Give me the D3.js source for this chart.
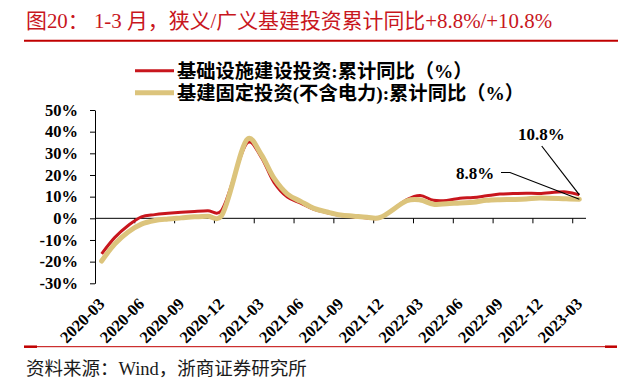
<!DOCTYPE html>
<html>
<head>
<meta charset="utf-8">
<script src="https://cdn.jsdelivr.net/npm/d3@7"></script>
<style>
  body { margin: 0; background: #fff; }
  svg { display: block; }
</style>
</head>
<body>
<svg id="chart" width="629" height="383"></svg>
<script>
// Monate (Kategorien), Januar jeweils ohne Wert (Jan-Feb kumuliert)
const months = [
    '2020-03', '2020-04', '2020-05', '2020-06', '2020-07', '2020-08', '2020-09', '2020-10', '2020-11', '2020-12',
    '2021-01', '2021-02', '2021-03', '2021-04', '2021-05', '2021-06', '2021-07', '2021-08', '2021-09', '2021-10', '2021-11', '2021-12',
    '2022-01', '2022-02', '2022-03', '2022-04', '2022-05', '2022-06', '2022-07', '2022-08', '2022-09', '2022-10', '2022-11', '2022-12',
    '2023-01', '2023-02', '2023-03'
];

// 基础设施建设投资:累计同比 (%)
const infraBroad = [
    -16.4, -8.8, -3.3, 0.7, 1.7, 2.3, 2.8, 3.2, 3.5, 3.4,
    null, 35.0, 28.5, 16.5, 9.8, 7.0, 4.1, 2.6, 1.3, 0.7, 0.2, 0.2,
    null, 8.6, 10.5, 8.3, 8.2, 9.3, 9.6, 10.4, 11.2, 11.4, 11.6, 11.5,
    null, 12.2, 10.8
];

// 基建固定投资(不含电力):累计同比 (%)
const infraNarrow = [
    -19.7, -11.8, -6.3, -2.7, -1.0, -0.3, 0.2, 0.7, 1.0, 0.9,
    null, 36.6, 29.7, 18.4, 11.2, 7.8, 4.6, 2.9, 1.5, 1.0, 0.5, 0.4,
    null, 8.1, 8.5, 6.5, 6.7, 7.1, 7.4, 8.3, 8.6, 8.7, 8.9, 9.4,
    null, 9.0, 8.8
];

const yTicks = [-30, -20, -10, 0, 10, 20, 30, 40, 50];
const xLabelMonths = [
    '2020-03', '2020-06', '2020-09', '2020-12', '2021-03', '2021-06', '2021-09',
    '2021-12', '2022-03', '2022-06', '2022-09', '2022-12', '2023-03'
];

const seriesNames = ['基础设施建设投资:累计同比（%）', '基建固定投资(不含电力):累计同比（%）'];
const titleText = '图20：  1-3 月，狭义/广义基建投资累计同比+8.8%/+10.8%';
const sourceText = '资料来源：Wind，浙商证券研究所';

const RED = '#c8161d';
const TAN = '#dcc47c';
const FONT = '"Liberation Serif", "Noto Sans CJK SC", serif';

const svg = d3.select('#chart');

// Titel + Linien
svg.append('text')
    .attr('x', 26)
    .attr('y', 28)
    .style('font-family', FONT)
    .style('font-size', '20.9px')
    .style('fill', RED)
    .text(titleText);

svg.append('line')
    .attr('x1', 24).attr('x2', 618)
    .attr('y1', 40.7).attr('y2', 40.7)
    .attr('stroke', '#c00000')
    .attr('stroke-width', 2);

// Fusszeile
svg.append('line')
    .attr('x1', 24).attr('x2', 617)
    .attr('y1', 346.7).attr('y2', 346.7)
    .attr('stroke', '#c00000')
    .attr('stroke-width', 1);
[[24, 37], [605, 617]].forEach(([a, b]) => {
    svg.append('line')
        .attr('x1', a).attr('x2', b)
        .attr('y1', 346.7).attr('y2', 346.7)
        .attr('stroke', '#c00000')
        .attr('stroke-width', 2.5);
});

svg.append('text')
    .attr('x', 26)
    .attr('y', 374.5)
    .style('font-family', FONT)
    .style('font-size', '18.5px')
    .style('fill', '#1a1a1a')
    .text(sourceText);

// Skalen
const x = d3.scaleBand()
    .domain(months)
    .range([95, 586])
    .padding(0);

const y = d3.scaleLinear()
    .domain([-30, 50])
    .range([283.3, 110]);

const bw = x.bandwidth();

// Y-Achse
const yAxis = svg.append('g')
    .attr('transform', 'translate(95,0)')
    .call(d3.axisLeft(y)
        .tickValues(yTicks)
        .tickFormat(d => d + '%')
        .tickSize(5)
        .tickSizeOuter(0)
        .tickPadding(12));
yAxis.selectAll('path, line').attr('stroke', '#000');
yAxis.selectAll('text')
    .style('font-family', FONT)
    .style('font-size', '16.5px')
    .style('font-weight', 'bold')
    .style('fill', '#000');

// X-Achse (Nulllinie), Striche an Kategoriegrenzen
svg.append('line')
    .attr('x1', x.range()[0]).attr('x2', x.range()[1])
    .attr('y1', y(0)).attr('y2', y(0))
    .attr('stroke', '#000');

svg.selectAll('.x-tick')
    .data(months.filter((m, i) => i % 3 === 0 && i > 0))
    .enter()
    .append('line')
    .attr('class', 'x-tick')
    .attr('x1', d => x(d)).attr('x2', d => x(d))
    .attr('y1', y(0)).attr('y2', y(0) + 5)
    .attr('stroke', '#000');

svg.selectAll('.x-label')
    .data(xLabelMonths)
    .enter()
    .append('text')
    .attr('class', 'x-label')
    .attr('text-anchor', 'end')
    .attr('transform', d => `translate(${x(d) + bw / 2 + 4},305) rotate(-45)`)
    .style('font-family', FONT)
    .style('font-size', '16.5px')
    .style('font-weight', 'bold')
    .style('fill', '#000')
    .text(d => d);

// Linien (Luecken im Januar werden verbunden)
const line = d3.line()
    .x(d => x(d.m) + bw / 2)
    .y(d => y(d.v))
    .curve(d3.curveCatmullRom.alpha(0.3));

const toPoints = arr => months
    .map((m, i) => ({ m: m, v: arr[i] }))
    .filter(d => d.v !== null);

svg.append('path')
    .datum(toPoints(infraBroad))
    .attr('d', line)
    .attr('fill', 'none')
    .attr('stroke', RED)
    .attr('stroke-width', 3)
    .attr('stroke-linejoin', 'round');

svg.append('path')
    .datum(toPoints(infraNarrow))
    .attr('d', line)
    .attr('fill', 'none')
    .attr('stroke', TAN)
    .attr('stroke-width', 5)
    .attr('stroke-linejoin', 'round')
    .attr('stroke-linecap', 'round');

// Legende
[[RED, 3, 70.7], [TAN, 5, 92.7]].forEach(([c, w, ly], i) => {
    svg.append('line')
        .attr('x1', 135).attr('x2', 174)
        .attr('y1', ly).attr('y2', ly)
        .attr('stroke', c)
        .attr('stroke-width', w);
    svg.append('text')
        .attr('x', 177)
        .attr('y', ly + 7)
        .style('font-family', FONT)
        .style('font-size', '19.3px')
        .style('font-weight', 'bold')
        .style('fill', '#000')
        .text(seriesNames[i]);
});

// Annotationen der Endwerte
const last = months.length - 1;
const endX = x(months[last]) + bw / 2;

svg.append('text')
    .attr('x', 518)
    .attr('y', 140)
    .style('font-family', FONT)
    .style('font-size', '17px')
    .style('font-weight', 'bold')
    .text(infraBroad[last].toFixed(1) + '%');
svg.append('line')
    .attr('x1', 541.7).attr('y1', 146)
    .attr('x2', endX).attr('y2', y(infraBroad[last]))
    .attr('stroke', '#000')
    .attr('stroke-width', 1.2);

svg.append('text')
    .attr('x', 456)
    .attr('y', 179)
    .style('font-family', FONT)
    .style('font-size', '17px')
    .style('font-weight', 'bold')
    .text(infraNarrow[last].toFixed(1) + '%');
svg.append('polyline')
    .attr('points', `501,172.5 510,172.5 ${endX},${y(infraNarrow[last])}`)
    .attr('fill', 'none')
    .attr('stroke', '#000')
    .attr('stroke-width', 1.2);
</script>
</body>
</html>
